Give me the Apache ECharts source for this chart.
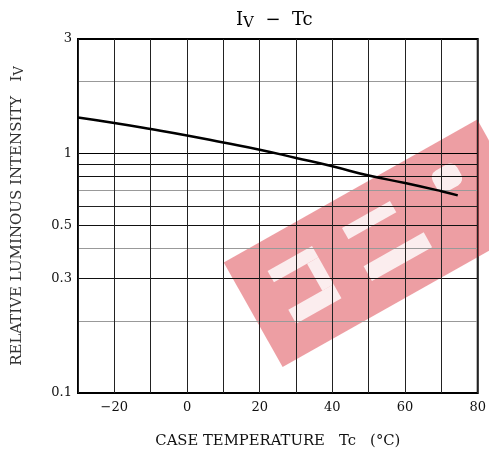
<!DOCTYPE html>
<html><head><meta charset="utf-8">
<script src="https://cdn.jsdelivr.net/npm/echarts@6/dist/echarts.min.js"></script>
<style>html,body{margin:0;padding:0;background:#fff}#c{width:489px;height:454px}</style>
</head><body><div id="c"></div>
<script>
const temps = [-30, -20, -10, 0, 10, 20, 30, 40, 50, 60, 70, 74.5];
const intensity = [1.41, 1.338, 1.263, 1.188, 1.11, 1.036, 0.957, 0.883, 0.808, 0.752, 0.695, 0.668];
const yGridValues = [0.1, 0.2, 0.3, 0.4, 0.5, 0.6, 0.7, 0.8, 0.9, 1, 2, 3];
const yGridColors = ['#000', '#999', '#111', '#999', '#111', '#222', '#999', '#111', '#111', '#000', '#999', '#000'];
const yLabelValues = [0.1, 0.3, 0.5, 1, 3];
const xLabelValues = [-20, 0, 20, 40, 60, 80];

const FONT = '"DejaVu Serif", "Liberation Serif", serif';
const chart = echarts.init(document.getElementById('c'), null, {renderer: 'canvas'});
const d2r = Math.PI / 180;
const W = 'rgba(255,255,255,0.82)';
chart.setOption({
  animation: false,
  grid: {left: 78, right: 9, top: 39, bottom: 60, show: true, borderColor: '#000', borderWidth: 2, backgroundColor: 'transparent'},
  xAxis: {
    type: 'value', min: -30, max: 80, interval: 10,
    name: 'CASE TEMPERATURE   Tc   (°C)', nameLocation: 'middle', nameGap: 41,
    nameTextStyle: {fontFamily: FONT, fontSize: 14.8, color: '#111'},
    axisLine: {show: false}, axisTick: {show: false},
    splitLine: {show: true, lineStyle: {color: '#222', width: 1}},
    axisLabel: {fontFamily: FONT, fontSize: 13, color: '#111', margin: 8,
      formatter: v => xLabelValues.indexOf(v) >= 0 ? (v < 0 ? '\u2212' + (-v) : String(v)) : ''}
  },
  yAxis: {
    type: 'log', logBase: 10, min: 0.1, max: 3,
    name: '{a|RELATIVE LUMINOUS INTENSITY   I}{b|V}', nameLocation: 'middle', nameGap: 52, nameRotate: 90,
    nameTextStyle: {rich: {
      a: {fontFamily: FONT, fontSize: 15, color: '#333'},
      b: {fontFamily: FONT, fontSize: 13, color: '#333', verticalAlign: 'bottom', padding: [4, 0, 0, 0]}
    }},
    axisLine: {show: false},
    axisTick: {show: false, customValues: yGridValues},
    splitLine: {show: true, lineStyle: {color: yGridColors, width: 1}},
    axisLabel: {customValues: yLabelValues, fontFamily: FONT, fontSize: 13, color: '#111', margin: 6,
      formatter: v => String(+v.toPrecision(3))}
  },
  graphic: [
    {type: 'text', left: 236, top: 11, z: 10, style: {
      text: '{i|I}{v|V}{i|  \u2212  Tc}', rich: {
        i: {fontFamily: FONT, fontSize: 18, color: '#111'},
        v: {fontFamily: FONT, fontSize: 15, color: '#111', padding: [6, 0, 0, 0]}
      }}},
    {type: 'group', x: 379.5, y: 243.5, rotation: 29.4 * d2r, z: 100, children: [
      {type: 'rect', shape: {x: -145, y: -60, width: 291, height: 120}, style: {fill: 'rgba(215,40,52,0.45)'}},
      {type: 'rect', shape: {x: -111, y: -31, width: 51, height: 13}, style: {fill: W}},
      {type: 'rect', shape: {x: -73, y: -18, width: 13, height: 31}, style: {fill: W}},
      {type: 'rect', shape: {x: -112, y: 13, width: 52, height: 16}, style: {fill: W}},
      {type: 'rect', shape: {x: -25, y: -32, width: 55, height: 13}, style: {fill: W}},
      {type: 'rect', shape: {x: -25, y: 12, width: 69, height: 17}, style: {fill: W}},
      {type: 'rect', shape: {x: 77, y: -36, width: 28, height: 24, r: 8}, style: {fill: W}}
    ]}
  ],
  series: [{
    type: 'line', data: temps.map((t, i) => [t, intensity[i]]),
    smooth: true, showSymbol: false, z: 5,
    lineStyle: {color: '#000', width: 2.5}
  }]
});
</script></body></html>
